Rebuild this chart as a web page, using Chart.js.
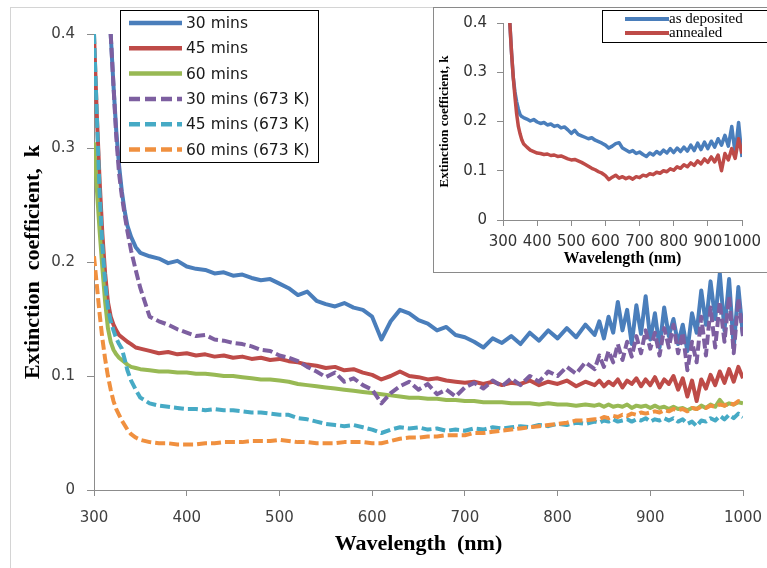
<!DOCTYPE html>
<html>
<head>
<meta charset="utf-8">
<script src="https://cdn.jsdelivr.net/npm/chart.js@4.4.1/dist/chart.umd.min.js"></script>
<style>
html, body { margin: 0; padding: 0; background: #fff; overflow: hidden; }
#wrap { position: relative; width: 767px; height: 568px; overflow: hidden; }
#frame { position: absolute; left: 10px; top: 7px; width: 800px; height: 600px; border: 1px solid #d4d4d4; }
#main { position: absolute; left: 0; top: 0; }
#insetBox { position: absolute; left: 433px; top: 7px; width: 340px; height: 266px; box-sizing: border-box; border: 1px solid #8a8a8a; background: #fff; }
#inset { position: absolute; left: 433px; top: 7px; }
</style>
</head>
<body>
<div id="wrap">
  <div id="frame"></div>
  <canvas id="main" width="767" height="568"></canvas>
  <div id="insetBox"></div>
  <canvas id="inset" width="334" height="265"></canvas>
</div>
<script>
// main chart: wavelength grid (nm)
const wl = [300,303,306,309,312,315,318,321,324,327,330,333,336,340,345,350,
  360,370,380,390,400,410,420,430,440,450,460,470,480,490,500,510,520,530,540,550,
  560,570,580,590,600,610,620,630,640,650,660,670,680,690,700,710,720,730,740,750,
  760,770,780,790,800,810,820,830,840,
  845,850,855,860,865,870,875,880,885,890,895,900,905,910,915,920,925,930,935,940,
  945,950,955,960,965,970,975,980,985,990,995,1000];

const seriesLabels = ['30 mins', '45 mins', '60 mins', '30 mins (673 K)', '45 mins (673 K)', '60 mins (673 K)'];

const k30 = [null,null,null,null,null,null,0.400,0.355,0.315,0.285,0.262,0.245,0.232,0.222,0.213,0.208,
  0.205,0.203,0.199,0.201,0.196,0.194,0.193,0.190,0.191,0.188,
  0.189,0.186,0.184,0.185,0.181,0.177,0.171,0.174,0.166,0.163,
  0.161,0.164,0.160,0.158,0.152,0.132,0.148,0.158,0.155,0.149,
  0.146,0.140,0.143,0.136,0.134,0.130,0.125,0.133,0.129,0.135,
  0.128,0.138,0.131,0.140,0.133,0.142,0.134,0.145,0.136,
  0.148,0.133,0.152,0.138,0.165,0.140,0.158,0.128,
  0.162,0.137,0.170,0.132,0.155,0.125,0.160,0.135,
  0.150,0.128,0.145,0.122,0.155,0.138,0.175,0.145,
  0.183,0.150,0.190,0.140,0.185,0.125,0.178,0.135];

const k45 = [0.400,0.330,0.272,0.225,0.190,0.165,0.152,0.145,0.140,0.136,0.134,0.132,0.130,0.128,0.125,0.124,
  0.122,0.120,0.121,0.119,0.120,0.118,0.119,0.117,0.118,0.116,
  0.117,0.115,0.116,0.114,0.115,0.113,0.112,0.110,0.109,0.107,
  0.108,0.105,0.106,0.103,0.101,0.097,0.100,0.104,0.100,0.099,
  0.097,0.098,0.096,0.095,0.094,0.095,0.093,0.095,0.092,0.094,
  0.093,0.096,0.092,0.095,0.093,0.096,0.091,0.095,0.092,
  0.096,0.091,0.095,0.092,0.097,0.090,0.096,0.093,
  0.098,0.091,0.097,0.092,0.099,0.090,0.097,0.093,
  0.100,0.088,0.098,0.082,0.096,0.078,0.097,0.089,
  0.101,0.092,0.104,0.094,0.106,0.095,0.108,0.098];

const k60 = [0.305,0.265,0.228,0.195,0.165,0.142,0.130,0.123,0.119,0.116,0.114,0.112,0.110,0.108,0.107,0.106,
  0.105,0.104,0.104,0.103,0.103,0.102,0.102,0.101,0.100,0.100,
  0.099,0.098,0.097,0.097,0.096,0.095,0.093,0.092,0.091,0.090,
  0.089,0.088,0.087,0.086,0.085,0.084,0.083,0.082,0.081,0.081,
  0.080,0.080,0.079,0.079,0.078,0.078,0.077,0.077,0.077,0.076,
  0.076,0.076,0.075,0.076,0.075,0.075,0.074,0.075,0.074,
  0.075,0.073,0.075,0.073,0.074,0.073,0.075,0.072,
  0.074,0.073,0.074,0.072,0.074,0.072,0.073,0.071,
  0.073,0.071,0.072,0.070,0.072,0.071,0.074,0.072,
  0.075,0.073,0.079,0.074,0.076,0.075,0.077,0.076];

const k30a = [null,null,null,null,null,null,0.400,0.355,0.310,0.278,0.258,0.242,0.227,0.210,0.193,0.177,
  0.152,0.148,0.145,0.141,0.138,0.135,0.136,0.132,0.131,0.129,
  0.128,0.126,0.123,0.122,0.118,0.116,0.113,0.108,0.104,0.099,
  0.103,0.095,0.098,0.092,0.088,0.076,0.085,0.091,0.095,0.088,
  0.093,0.084,0.088,0.082,0.090,0.094,0.089,0.096,0.091,0.098,
  0.092,0.100,0.095,0.104,0.100,0.108,0.102,0.112,0.106,
  0.118,0.108,0.122,0.112,0.128,0.114,0.130,0.117,
  0.135,0.120,0.140,0.124,0.138,0.118,0.142,0.125,
  0.145,0.120,0.138,0.105,0.130,0.112,0.152,0.118,
  0.160,0.125,0.165,0.130,0.170,0.120,0.168,0.135];

const k45a = [0.400,0.330,0.262,0.215,0.183,0.160,0.148,0.140,0.133,0.128,0.124,0.115,0.105,0.096,0.088,0.081,
  0.076,0.074,0.073,0.072,0.071,0.071,0.070,0.071,0.070,0.070,
  0.069,0.068,0.068,0.067,0.066,0.066,0.063,0.062,0.060,0.058,
  0.057,0.056,0.057,0.055,0.053,0.050,0.053,0.055,0.054,0.055,
  0.053,0.054,0.052,0.053,0.052,0.054,0.053,0.055,0.054,0.055,
  0.056,0.055,0.057,0.056,0.058,0.057,0.059,0.058,0.060,
  0.059,0.061,0.060,0.062,0.060,0.061,0.062,0.060,
  0.062,0.061,0.063,0.060,0.062,0.061,0.063,0.061,
  0.063,0.060,0.062,0.058,0.060,0.056,0.061,0.060,
  0.063,0.061,0.065,0.062,0.066,0.063,0.067,0.064];

const k60a = [0.205,0.180,0.155,0.133,0.115,0.100,0.088,0.078,0.071,0.066,0.061,0.057,0.053,0.049,0.046,0.044,
  0.042,0.041,0.041,0.040,0.040,0.040,0.041,0.041,0.042,0.042,
  0.042,0.043,0.043,0.043,0.044,0.043,0.042,0.042,0.041,0.041,
  0.041,0.042,0.042,0.042,0.041,0.041,0.043,0.045,0.046,0.046,
  0.047,0.047,0.048,0.048,0.048,0.050,0.050,0.051,0.052,0.053,
  0.054,0.055,0.056,0.057,0.058,0.059,0.061,0.061,0.062,
  0.062,0.064,0.063,0.065,0.064,0.066,0.065,0.067,
  0.066,0.068,0.067,0.068,0.069,0.068,0.070,0.069,
  0.071,0.070,0.071,0.069,0.072,0.071,0.073,0.072,
  0.074,0.073,0.075,0.074,0.076,0.075,0.078,0.077];

// inset chart
const wl2 = [320,325,330,335,340,345,350,355,360,
  370,380,390,400,410,420,430,440,450,460,470,480,490,500,510,520,530,540,550,560,
  570,580,590,600,610,620,630,640,650,660,670,680,690,700,710,720,730,740,750,760,
  770,780,790,800,810,820,830,840,850,860,870,880,890,900,910,920,930,940,950,960,
  970,980,990,1000];

const insetLabels = ['as deposited', 'annealed'];

const kDep = [0.400,0.340,0.290,0.260,0.240,0.225,0.214,0.210,0.208,
  0.205,0.201,0.204,0.199,0.196,0.198,0.193,0.195,0.190,0.192,
  0.187,0.189,0.183,0.176,0.182,0.174,0.171,0.168,0.165,0.167,
  0.162,0.159,0.156,0.152,0.146,0.150,0.155,0.157,0.146,0.142,
  0.138,0.141,0.135,0.138,0.133,0.129,0.136,0.132,0.139,0.134,
  0.142,0.136,0.145,0.137,0.146,0.139,0.148,0.140,0.152,0.141,
  0.156,0.143,0.158,0.145,0.160,0.148,0.165,0.152,0.172,0.150,
  0.190,0.135,0.198,0.128];

const kAnn = [0.400,0.340,0.290,0.250,0.215,0.190,0.175,0.163,0.155,
  0.148,0.142,0.139,0.136,0.135,0.133,0.134,0.131,0.132,0.129,
  0.130,0.127,0.124,0.122,0.123,0.120,0.117,0.113,0.109,0.105,
  0.102,0.098,0.095,0.090,0.082,0.087,0.091,0.085,0.088,0.084,
  0.087,0.083,0.088,0.086,0.091,0.089,0.094,0.092,0.097,0.095,
  0.100,0.098,0.104,0.101,0.108,0.105,0.112,0.108,0.116,0.111,
  0.120,0.114,0.124,0.117,0.128,0.118,0.132,0.100,0.135,0.122,
  0.145,0.125,0.165,0.135];

const mainValues = [k30, k45, k60, k30a, k45a, k60a];
const mainColors = ['#4A7EBB', '#BE4B48', '#98B954', '#7D5FA0', '#46AAC5', '#F0903F'];
const mainDashed = [false, false, false, true, true, true];

const axisGrey = '#8c8c8c';
const tickFont = { family: 'DejaVu Sans', size: 15 };
const fmtY = v => v === 0 ? '0' : v.toFixed(1);
const fmtX = v => String(v);

// legends drawn on the canvas, Excel style boxes
const mainLegend = {
  id: 'mainLegend',
  afterDraw(chart) {
    const ctx = chart.ctx;
    ctx.save();
    ctx.fillStyle = '#fff';
    ctx.fillRect(120, 10, 198, 152);
    ctx.strokeStyle = '#000';
    ctx.lineWidth = 1;
    ctx.strokeRect(120.5, 10.5, 198, 152);
    chart.data.datasets.forEach((d, i) => {
      const y = 23 + i * 25.3;
      ctx.beginPath();
      ctx.setLineDash(d.borderDash.length ? [11, 5] : []);
      ctx.strokeStyle = d.borderColor;
      ctx.lineWidth = 4.5;
      ctx.moveTo(129, y);
      ctx.lineTo(182, y);
      ctx.stroke();
      ctx.setLineDash([]);
      ctx.fillStyle = '#1a1a1a';
      ctx.font = '15.5px "DejaVu Sans"';
      ctx.textBaseline = 'middle';
      ctx.fillText(d.label, 186, y + 1);
    });
    ctx.restore();
  }
};

const insetLegend = {
  id: 'insetLegend',
  afterDraw(chart) {
    const ctx = chart.ctx;
    ctx.save();
    ctx.fillStyle = '#fff';
    ctx.fillRect(169, 3, 200, 32);
    ctx.strokeStyle = '#000';
    ctx.lineWidth = 1;
    ctx.strokeRect(169.5, 3.5, 200, 32);
    chart.data.datasets.forEach((d, i) => {
      const y = 12 + i * 14;
      ctx.beginPath();
      ctx.strokeStyle = d.borderColor;
      ctx.lineWidth = 4;
      ctx.moveTo(192, y);
      ctx.lineTo(236, y);
      ctx.stroke();
      ctx.fillStyle = '#000';
      ctx.font = '15px "Liberation Serif"';
      ctx.textBaseline = 'middle';
      ctx.fillText(d.label, 236, y);
    });
    ctx.restore();
  }
};

// fixed axis boxes so the plot areas line up with the reference
function fitX(h) {
  return s => { s.height = h; s.paddingLeft = 0; s.paddingRight = 0; };
}
function fitY(w) {
  return s => { s.width = w; s.paddingTop = 0; s.paddingBottom = 0; };
}

new Chart(document.getElementById('main'), {
  type: 'line',
  data: {
    datasets: mainValues.map((vals, i) => ({
      label: seriesLabels[i],
      data: wl.map((x, j) => ({ x: x, y: vals[j] })),
      borderColor: mainColors[i],
      borderWidth: 4,
      borderDash: mainDashed[i] ? [10, 4] : [],
      borderJoinStyle: 'round',
      pointRadius: 0,
      tension: 0,
      fill: false,
      order: 10 - i
    }))
  },
  options: {
    responsive: false,
    animation: false,
    events: [],
    layout: { padding: { left: 0, right: 24, top: 34, bottom: 0 } },
    plugins: { legend: { display: false }, tooltip: { enabled: false } },
    scales: {
      x: {
        type: 'linear', min: 300, max: 1000,
        ticks: { stepSize: 100, callback: fmtX, color: '#404040', font: tickFont, padding: 13, maxRotation: 0, autoSkip: false },
        grid: { drawOnChartArea: false, drawTicks: true, tickLength: 6, color: axisGrey },
        border: { display: true, color: axisGrey, width: 1 },
        title: { display: true, text: 'Wavelength  (nm)', color: '#000',
          font: { family: 'Liberation Serif', size: 22, weight: 'bold' }, padding: { top: 0, bottom: 10 } },
        afterFit: fitX(78)
      },
      y: {
        type: 'linear', min: 0, max: 0.4,
        ticks: { stepSize: 0.1, callback: fmtY, color: '#404040', font: tickFont, padding: 12 },
        grid: { drawOnChartArea: false, drawTicks: true, tickLength: 7, color: axisGrey },
        border: { display: true, color: axisGrey, width: 1 },
        title: { display: true, text: 'Extinction  coefficient,  k', color: '#000',
          font: { family: 'Liberation Serif', size: 22, weight: 'bold' }, padding: { top: 20, bottom: 0 } },
        afterFit: fitY(94)
      }
    }
  },
  plugins: [mainLegend]
});

new Chart(document.getElementById('inset'), {
  type: 'line',
  data: {
    datasets: [kDep, kAnn].map((vals, i) => ({
      label: insetLabels[i],
      data: wl2.map((x, j) => ({ x: x, y: vals[j] })),
      borderColor: ['#4A7EBB', '#BE4B48'][i],
      borderWidth: 3.5,
      borderJoinStyle: 'round',
      pointRadius: 0,
      tension: 0,
      fill: false,
      order: 10 - i
    }))
  },
  options: {
    responsive: false,
    animation: false,
    events: [],
    layout: { padding: { left: 0, right: 25, top: 16, bottom: 0 } },
    plugins: { legend: { display: false }, tooltip: { enabled: false } },
    scales: {
      x: {
        type: 'linear', min: 300, max: 1000,
        ticks: { stepSize: 100, callback: fmtX, color: '#333', font: tickFont, padding: 7, maxRotation: 0, minRotation: 0, autoSkip: false },
        grid: { drawOnChartArea: false, drawTicks: true, tickLength: 6, color: axisGrey },
        border: { display: true, color: axisGrey, width: 1 },
        title: { display: true, text: 'Wavelength (nm)', color: '#000',
          font: { family: 'Liberation Serif', size: 16, weight: 'bold' }, padding: { top: 0, bottom: 4 } },
        afterFit: fitX(52)
      },
      y: {
        type: 'linear', min: 0, max: 0.4,
        ticks: { stepSize: 0.1, callback: fmtY, color: '#333', font: tickFont, padding: 10 },
        grid: { drawOnChartArea: false, drawTicks: true, tickLength: 6, color: axisGrey },
        border: { display: true, color: axisGrey, width: 1 },
        title: { display: true, text: 'Extinction coefficient, k', color: '#000',
          font: { family: 'Liberation Serif', size: 13, weight: 'bold' }, padding: { top: 4, bottom: 0 } },
        afterFit: fitY(70)
      }
    }
  },
  plugins: [insetLegend]
});
</script>
</body>
</html>
